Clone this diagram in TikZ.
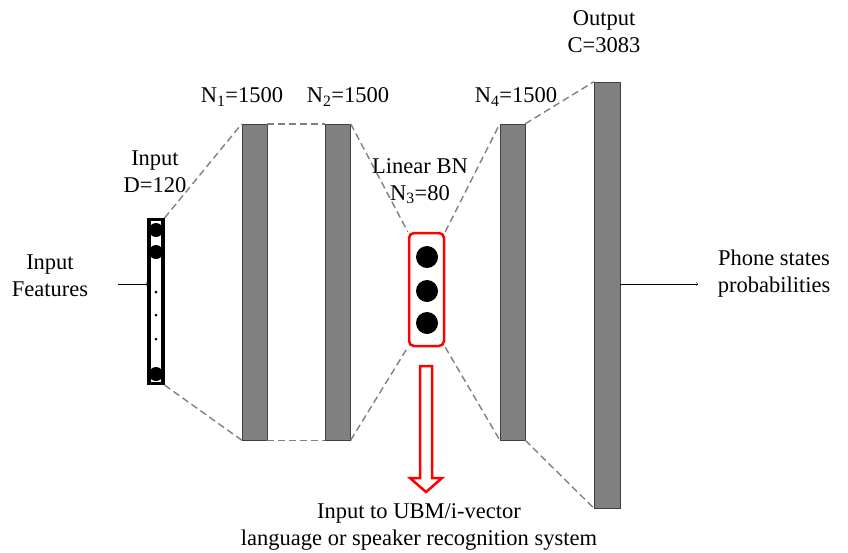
\documentclass[tikz,border=0pt]{standalone}
\usepackage{fontspec}
\setmainfont{Liberation Serif}
\begin{document}
\begin{tikzpicture}[
        x=1pt, y=-1pt,
        every node/.style={inner sep=0pt, font=\fontsize{22.5}{27}\selectfont, align=center},
        layer/.style={draw=black!75, fill=black!50, thin},
        unit/.style={circle, fill=black, minimum size=#1},
        link/.style={draw=black!50, line width=1.4pt, dash pattern=on 7pt off 4pt}
    ]
    \useasboundingbox (0,0) rectangle (848,552);

    % Capas
    \node[draw, line width=3.2pt, minimum width=14pt, minimum height=164pt] (inp) at (156,301.5) {};
    \node[layer, minimum width=25pt, minimum height=316pt] (l1) at (254.5,282) {};
    \node[layer, minimum width=25pt, minimum height=316pt] (l2) at (338,282) {};
    \node[draw=red, line width=2.5pt, rounded corners=5pt, minimum width=35pt, minimum height=113pt] (bn) at (426.5,289.5) {};
    \node[layer, minimum width=25pt, minimum height=316pt] (l4) at (512.5,282) {};
    \node[layer, minimum width=26pt, minimum height=426pt] (out) at (607,295) {};

    % Unidades
    \node[unit=14pt] (i1) at (156,230) {};
    \node[unit=14pt] (i2) at (156,252) {};
    \node[unit=3pt]  (d1) at (156,292) {};
    \node[unit=3pt]  (d2) at (156,315) {};
    \node[unit=3pt]  (d3) at (156,339) {};
    \node[unit=14pt] (i3) at (156,374) {};
    \node[unit=22pt] (b1) at (427,257) {};
    \node[unit=22pt] (b2) at (427,291) {};
    \node[unit=22pt] (b3) at (427,323) {};

    % Etiquetas
    \node (tinp) at (155,172) {Input\\D=120};
    \node (tfeat) at (50,276) {Input\\Features};
    \node (tn1) at (242,97) {N\textsubscript{1}=1500};
    \node (tn2) at (348,97) {N\textsubscript{2}=1500};
    \node (tn3) at (420,181) {Linear BN\\N\textsubscript{3}=80};
    \node (tn4) at (516,97) {N\textsubscript{4}=1500};
    \node (tout) at (604,32) {Output\\C=3083};
    \node (tph) at (774,274) {Phone states\\probabilities};
    \node (tsys) at (419,527) {Input to UBM/i-vector\\language or speaker recognition system};
    \coordinate (fin) at (118,284);
    \coordinate (fout) at (698,284);

    % Conexiones
    \draw[link] (inp.north east) -- (l1.north west);
    \draw[link] (inp.south east) -- (l1.south west);
    \draw[link] (l1.north east) -- (l2.north west);
    \draw[link] (l1.south east) -- (l2.south west);
    \draw[link] (l2.north east) -- (bn.north west);
    \draw[link] (l2.south east) -- (bn.south west);
    \draw[link] (bn.north east) -- (l4.north west);
    \draw[link] (bn.south east) -- (l4.south west);
    \draw[link] (l4.north east) -- (out.north west);
    \draw[link] (l4.south east) -- (out.south west);
    \draw[->, thin] (fin) -- (inp.west |- fin);
    \draw[->, thin] (out.east |- fout) -- (fout);

    % Flecha BN
    \draw[red, line width=2.5pt, fill=white, line join=miter]
        (420,366) -- (432,366) -- (432,478) -- (442,478) -- (426,492)
        -- (410,478) -- (420,478) -- cycle;

    \end{tikzpicture}
\end{document}
